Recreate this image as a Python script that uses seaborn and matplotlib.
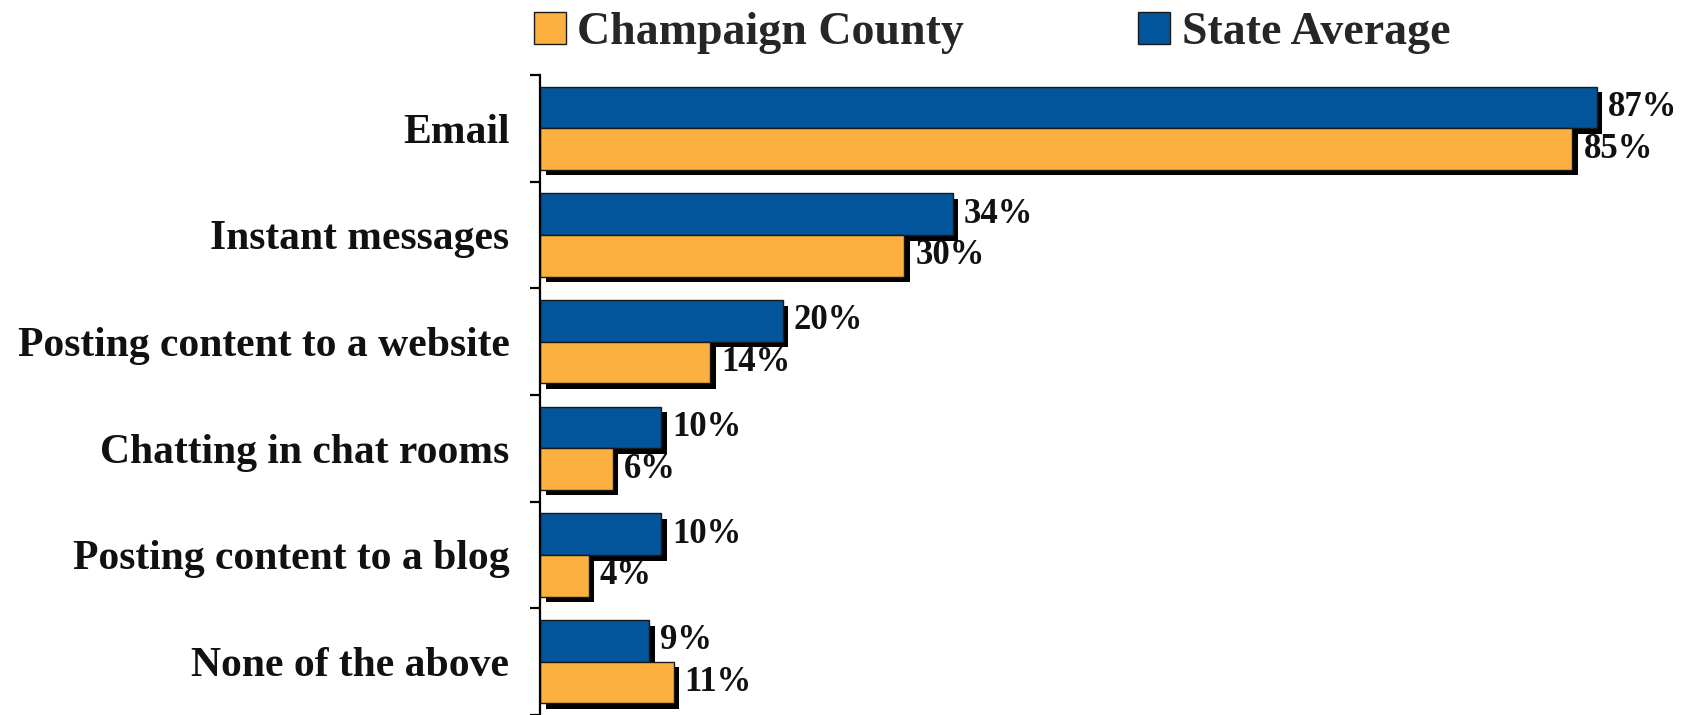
import numpy as np
import pandas as pd
import matplotlib
matplotlib.use("Agg")
import matplotlib.pyplot as plt
import matplotlib.patheffects as pe
from matplotlib.patches import Patch
import seaborn as sns

# Data
categories = ['Email', 'Instant messages', 'Posting content to a website',
              'Chatting in chat rooms', 'Posting content to a blog', 'None of the above']
state_avg = [87, 34, 20, 10, 10, 9]
champaign = [85, 30, 14, 6, 4, 11]

series_names = ['State Average', 'Champaign County']
colors = {'State Average': '#02559A', 'Champaign County': '#FBB040'}

df = pd.DataFrame({
    'category': categories * 2,
    'value': state_avg + champaign,
    'series': ['State Average'] * len(categories) + ['Champaign County'] * len(categories),
})

sns.set_style('white')
plt.rcParams['font.family'] = ['Liberation Serif', 'DejaVu Serif']
plt.rcParams['font.weight'] = 'bold'

fig = plt.figure(figsize=(16.84, 7.15), dpi=100)
ax = fig.add_axes([540 / 1684, 0.0, 1 - 540 / 1684, 1 - 75 / 715])

sns.barplot(data=df, x='value', y='category', hue='series', hue_order=series_names,
            palette=colors, saturation=1, orient='h', width=0.78, edgecolor='#1a1a1a',
            linewidth=1.0, ax=ax, legend=False)

# drop shadow on every bar
for p in ax.patches:
    p.set_path_effects([pe.SimplePatchShadow(offset=(4, -4), shadow_rgbFace='black', alpha=1.0),
                        pe.Normal()])

for cont in ax.containers:
    ax.bar_label(cont, labels=[f'{int(v)}%' for v in cont.datavalues], padding=8,
                 fontsize=25, fontweight='bold', color='#111111')

ax.set_xlim(0, 94.2)
ax.set_ylim(len(categories) - 0.5, -0.5)
ax.set_xlabel('')
ax.set_ylabel('')
ax.set_xticks([])

for s in ['top', 'right', 'bottom']:
    ax.spines[s].set_visible(False)
ax.spines['left'].set_linewidth(1.6)
ax.spines['left'].set_color('black')

ax.set_yticks(np.arange(len(categories)))
ax.set_yticklabels(categories, fontsize=30, fontweight='bold', color='#111111')
ax.set_yticks(np.arange(len(categories) + 1) - 0.5, minor=True)
ax.tick_params(axis='y', which='major', length=0, pad=22)
ax.tick_params(axis='y', which='minor', length=7, width=1.6, color='black', left=True)

handles = [Patch(facecolor=colors['Champaign County'], edgecolor='#1a1a1a', linewidth=1.0),
           Patch(facecolor=colors['State Average'], edgecolor='#1a1a1a', linewidth=1.0)]
fig.legend(handles, ['Champaign County', 'State Average'], loc='center',
           bbox_to_anchor=(992 / 1684, 1 - 33 / 715), ncol=2, frameon=False,
           prop={'size': 33, 'weight': 'bold'}, handlelength=0.7, handleheight=0.7,
           handletextpad=0.25, columnspacing=3.8)

fig.savefig('out.png', dpi=100)
